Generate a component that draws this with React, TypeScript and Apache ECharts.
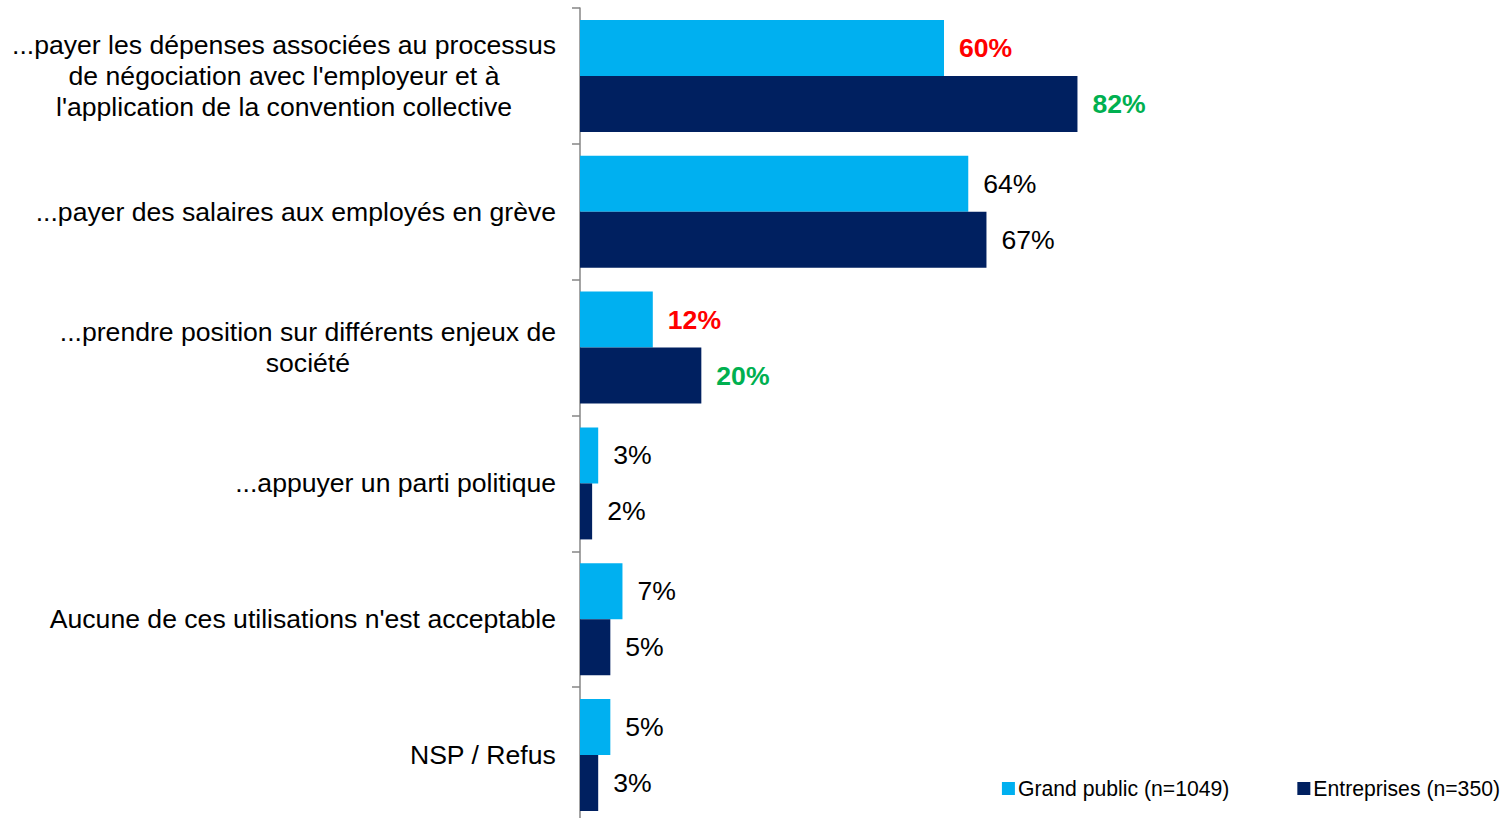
import React, { useEffect, useRef } from "react";
import * as echarts from "echarts";

const categories = [
  "...payer les dépenses associées au processus\nde négociation avec l'employeur et à\nl'application de la convention collective",
  "...payer des salaires aux employés en grève",
  "...prendre position sur différents enjeux de\nsociété",
  "...appuyer un parti politique",
  "Aucune de ces utilisations n'est acceptable",
  "NSP / Refus",
];
const seriesNames = ["Grand public (n=1049)", "Entreprises (n=350)"];
const grandPublic = [60, 64, 12, 3, 7, 5];
const entreprises = [82, 67, 20, 2, 5, 3];
// label highlight per data point: "" normal, "red" or "green" bold
const grandPublicHighlight = ["red", "", "red", "", "", ""];
const entreprisesHighlight = ["green", "", "green", "", "", ""];

const COLORS = { light: "#00B0F0", dark: "#002060", red: "#FF0000", green: "#00B050" };
const FONT = "'Liberation Sans', Arial, sans-serif";
const FS = 26.6;

function toData(values: number[], hl: string[]) {
  return values.map((v, i) => {
    if (!hl[i]) return v;
    return {
      value: v,
      label: { color: hl[i] === "red" ? COLORS.red : COLORS.green, fontWeight: "bold" },
    };
  });
}

export default function App() {
  const ref = useRef<HTMLDivElement>(null);
  useEffect(() => {
    if (!ref.current) return;
    const chart = echarts.init(ref.current, null, { renderer: "svg" });
    const labelCommon = {
      show: true,
      position: "right",
      distance: 15,
      formatter: "{c}%",
      fontSize: FS,
      fontFamily: FONT,
      color: "#000",
    };
    chart.setOption({
      animation: false,
      backgroundColor: "#fff",
      grid: { left: 580, top: 8, width: 910, height: 815, containLabel: false, outerBoundsMode: "none" },
      legend: {
        right: 6,
        top: 778,
        padding: 0,
        itemGap: 68,
        itemWidth: 13,
        itemHeight: 13,
        icon: "rect",
        textStyle: { fontSize: 21.2, fontFamily: FONT, color: "#000", padding: [0, 0, 0, -2] },
        data: seriesNames,
      },
      xAxis: {
        type: "value",
        min: 0,
        max: 150,
        show: false,
      },
      yAxis: {
        type: "category",
        inverse: true,
        data: categories,
        axisLine: { show: true, lineStyle: { color: "#868686", width: 1.5 } },
        axisTick: { show: true, length: 8, inside: false, lineStyle: { color: "#868686", width: 1.5 } },
        axisLabel: {
          margin: 24,
          align: "right",
          fontSize: FS,
          fontFamily: FONT,
          color: "#000",
          lineHeight: 31,
          formatter: (v: string) =>
            v
              .split("\n")
              .map((l) => "{c|" + l + "}")
              .join("\n"),
          rich: {
            c: { align: "center", fontSize: FS, fontFamily: FONT, color: "#000", lineHeight: 31 },
          },
        },
      },
      series: [
        {
          name: seriesNames[0],
          type: "bar",
          barWidth: 56,
          barGap: "0%",
          itemStyle: { color: COLORS.light },
          label: labelCommon,
          data: toData(grandPublic, grandPublicHighlight),
        },
        {
          name: seriesNames[1],
          type: "bar",
          barWidth: 56,
          barGap: "0%",
          itemStyle: { color: COLORS.dark },
          label: labelCommon,
          data: toData(entreprises, entreprisesHighlight),
        },
      ],
    });
    return () => chart.dispose();
  }, []);
  return (
    <div
      ref={ref}
      style={{ position: "absolute", left: 0, top: 0, width: 1506, height: 818, background: "#fff" }}
    />
  );
}
